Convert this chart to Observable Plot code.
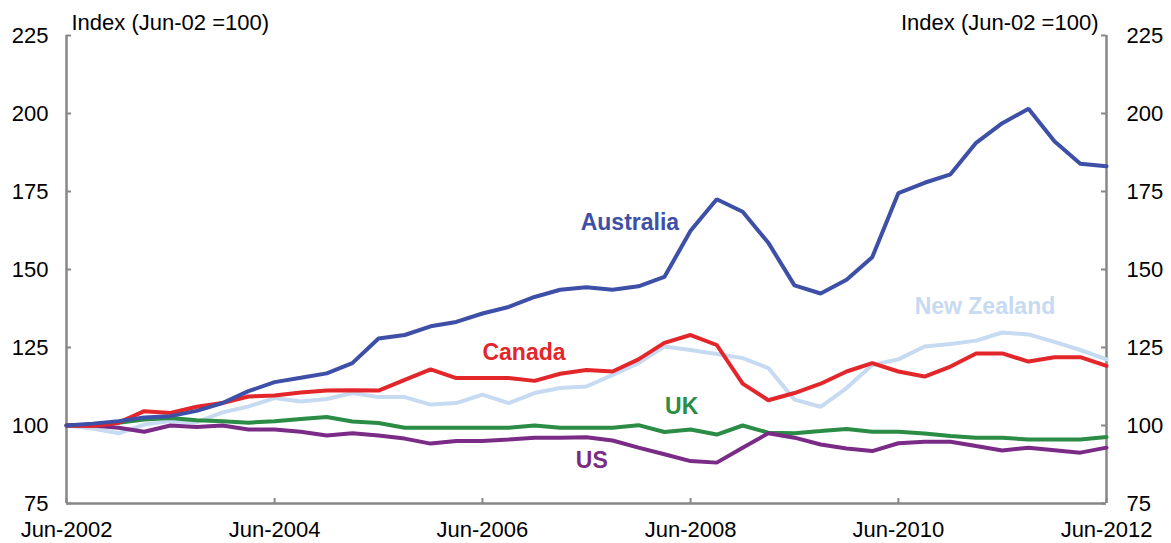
<!DOCTYPE html>
<html>
<head>
<meta charset="utf-8">
<script src="https://cdn.jsdelivr.net/npm/d3@7"></script>
<script src="https://cdn.jsdelivr.net/npm/@observablehq/plot@0.6"></script>
<style>
  html, body { margin: 0; padding: 0; background: #fff; }
  #chart { width: 1171px; height: 543px; }
</style>
</head>
<body>
<div id="chart"></div>
<script>
// Quarterly index, Jun-2002 = 100 (41 quarters, Jun-2002 .. Jun-2012)
const startQuarter = "2002-06-01";
const quarterCount = 41;

const australia = [100, 100.6, 101.4, 102.6, 103, 104.7, 107.2, 111, 113.9, 115.3, 116.7, 120, 127.9, 129, 131.8, 133.2, 135.9, 138, 141.2, 143.5, 144.3, 143.5, 144.6, 147.6, 162.4, 172.5, 168.5, 158.6, 144.9, 142.3, 146.7, 153.9, 174.5, 177.8, 180.5, 190.6, 196.9, 201.5, 191.1, 183.9, 183.1];
const canada = [100, 99.8, 100.9, 104.6, 104, 106, 107.2, 109.3, 109.6, 110.6, 111.2, 111.3, 111.2, 114.6, 118, 115.2, 115.2, 115.2, 114.3, 116.6, 117.8, 117.3, 121.2, 126.5, 129, 125.8, 113.4, 108.1, 110.4, 113.4, 117.3, 120, 117.3, 115.7, 118.9, 123.1, 123.1, 120.5, 121.9, 121.9, 119.1];
const newZealand = [100, 99, 97.5, 100.3, 101.4, 101, 104.2, 106.1, 108.8, 107.7, 108.5, 110.4, 109.1, 109.1, 106.7, 107.2, 109.9, 107.2, 110.4, 112, 112.5, 116.2, 120, 125.3, 124.2, 122.9, 121.6, 118.4, 108.3, 106, 112, 119.4, 121.2, 125.3, 126.1, 127.2, 129.8, 129.2, 126.8, 124.2, 121.2];
const uk = [100, 100.3, 100.9, 101.9, 102.4, 101.7, 101.4, 100.9, 101.4, 102.1, 102.7, 101.3, 100.8, 99.3, 99.3, 99.3, 99.3, 99.3, 100, 99.3, 99.3, 99.3, 100.1, 97.9, 98.7, 97.1, 100, 97.7, 97.5, 98.2, 98.9, 98, 98, 97.4, 96.6, 96.1, 96.1, 95.5, 95.5, 95.5, 96.3];
const us = [100, 100, 99.3, 98, 100, 99.5, 100, 98.7, 98.7, 98, 96.8, 97.5, 96.8, 95.8, 94.2, 95, 95, 95.5, 96.1, 96.1, 96.2, 95.2, 92.9, 90.8, 88.6, 88.1, 92.9, 97.5, 96.1, 93.9, 92.6, 91.8, 94.3, 94.8, 94.8, 93.4, 92, 92.9, 92.1, 91.3, 92.9];

const seriesNames = ["New Zealand", "UK", "US", "Canada", "Australia"];
const seriesValues = [newZealand, uk, us, canada, australia];
const seriesColors = ["#c6daf1", "#2a8c45", "#7a2b86", "#e3262a", "#3d4fa6"];

const yTicks = [75, 100, 125, 150, 175, 200, 225];
const xTickLabels = ["2002-06-01", "2004-06-01", "2006-06-01", "2008-06-01", "2010-06-01", "2012-06-01"];
const axisTitle = "Index (Jun-02 =100)";

const labelNames = ["Australia", "Canada", "New Zealand", "UK", "US"];
const labelDates = ["2007-11-01", "2006-10-25", "2011-04-01", "2008-05-01", "2007-06-20"];
const labelValues = [165, 123.4, 138, 106.1, 88.9];

// Build tables
const start = new Date(startQuarter);
const dates = d3.range(quarterCount).map(i => d3.utcMonth.offset(start, 3 * i));
const table = [];
seriesNames.forEach((name, s) => {
  seriesValues[s].forEach((v, i) => table.push({series: name, date: dates[i], value: v}));
});
const labels = labelNames.map((n, i) => ({series: n, date: new Date(labelDates[i]), value: labelValues[i]}));
const xTicks = xTickLabels.map(d => new Date(d));

const W = 1171, H = 543;
const mL = 66, mR = 65, mT = 35, mB = 40;
const innerW = W - mL - mR, innerH = H - mT - mB;
const gray = "#87878a";
const font = "Arial, 'Liberation Sans', sans-serif";

const chart = Plot.plot({
  width: W,
  height: H,
  marginLeft: mL,
  marginRight: mR,
  marginTop: mT,
  marginBottom: mB,
  style: {fontFamily: font, fontSize: "22px", color: "#000", background: "#fff"},
  x: {type: "utc", domain: [xTicks[0], xTicks[xTicks.length - 1]]},
  y: {domain: [75, 225]},
  color: {domain: seriesNames, range: seriesColors},
  marks: [
    // axis lines
    Plot.ruleX([xTicks[0], xTicks[xTicks.length - 1]], {stroke: gray, strokeWidth: 2.5}),
    Plot.ruleY([75], {stroke: gray, strokeWidth: 2.5}),
    // inward ticks
    Plot.tickY(yTicks, {y: d => d, stroke: gray, strokeWidth: 2, insetRight: innerW - 5}),
    Plot.tickY(yTicks, {y: d => d, stroke: gray, strokeWidth: 2, insetLeft: innerW - 5}),
    Plot.tickX(xTicks, {x: d => d, stroke: gray, strokeWidth: 2, insetTop: innerH - 5}),
    // tick labels
    Plot.axisY({anchor: "left", ticks: yTicks, tickSize: 0, tickPadding: 18, label: null, fontSize: 22, fill: "#000"}),
    Plot.axisY({anchor: "right", ticks: yTicks, tickSize: 0, tickPadding: 20, label: null, fontSize: 22, fill: "#000"}),
    Plot.axisX({anchor: "bottom", ticks: xTicks, tickSize: 0, tickPadding: 18, label: null, fontSize: 22, fill: "#000",
      tickFormat: d3.utcFormat("%b-%Y")}),
    // lines
    Plot.line(table, {x: "date", y: "value", z: "series", stroke: "series", strokeWidth: 4, strokeLinejoin: "miter"}),
    // series labels
    Plot.text(labels, {x: "date", y: "value", text: "series", fill: "series", fontWeight: "bold", fontSize: 23,
      textAnchor: "middle", lineAnchor: "middle"}),
    // axis titles
    Plot.text([axisTitle], {frameAnchor: "top-left", text: d => d, textAnchor: "start", lineAnchor: "bottom", dx: 5, dy: -6, fontSize: 22, fill: "#000"}),
    Plot.text([axisTitle], {frameAnchor: "top-right", text: d => d, textAnchor: "end", lineAnchor: "bottom", dx: -8, dy: -6, fontSize: 22, fill: "#000"})
  ]
});
document.getElementById("chart").appendChild(chart);
</script>
</body>
</html>
